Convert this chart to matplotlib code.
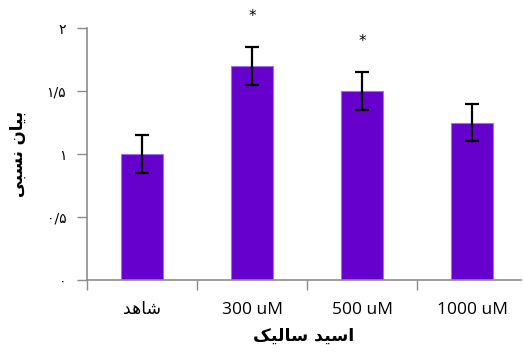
import numpy as np
import matplotlib
matplotlib.use("Agg")
import matplotlib.pyplot as plt

# Persian text written in presentation forms, visual order (matplotlib has no shaping)
categories = ["\ufeaa\ufeeb\ufe8e\ufeb7", "300 uM", "500 uM", "1000 uM"]
values = [1.0, 1.70, 1.50, 1.25]
errors = [0.15, 0.15, 0.15, 0.15]
stars = ["", "*", "*", ""]
yticks = [0, 0.5, 1, 1.5, 2]
ytick_labels = ["\u06f0", "\u06f0/\u06f5", "\u06f1", "\u06f1/\u06f5", "\u06f2"]
xlabel = "\ufb8f\ufef4\ufedf\ufe8e\ufeb3 \ufeaa\ufef4\ufeb3\ufe8d"
ylabel = "\ufef0\ufe92\ufeb4\ufee7 \ufee5\ufe8e\ufef4\ufe91"

fonts = ["Open Sans", "DejaVu Sans"]
plt.rcParams["font.family"] = fonts

fig = plt.figure(figsize=(5.23, 3.54), dpi=100)
ax = fig.add_axes([87 / 523, 74 / 354, 434 / 523, 252 / 354])

x = np.arange(len(categories))
ax.bar(x, values, width=0.39, color="#6600cc", edgecolor="#a070e8", linewidth=0.8, zorder=2)
ax.errorbar(x, values, yerr=errors, fmt="none", ecolor="black", elinewidth=1.6,
            capsize=5, capthick=1.6, zorder=3)

for xi, v, e, s in zip(x, values, errors, stars):
    if s:
        ax.text(xi, v + e + 0.24, s, ha="center", va="center", fontsize=11,
                family=["DejaVu Sans"], clip_on=False)

ax.set_xlim(-0.5, 3.445)
ax.set_ylim(0, 2)

ax.set_yticks(yticks)
ax.set_yticklabels(ytick_labels, fontsize=10, family=["DejaVu Sans"])
ax.tick_params(axis="y", direction="out", length=7, color="#8c8c8c", width=1, pad=8)

ax.set_xticks(x)
ax.set_xticklabels(categories, fontsize=12.5)
ax.tick_params(axis="x", length=0, pad=16)
ax.set_xticks([-0.5, 0.5, 1.5, 2.5], minor=True)
ax.tick_params(axis="x", which="minor", direction="out", length=7, color="#8c8c8c", width=1)

for sp in ["top", "right"]:
    ax.spines[sp].set_visible(False)
for sp in ["left", "bottom"]:
    ax.spines[sp].set_color("#8c8c8c")
    ax.spines[sp].set_linewidth(1.2)

ax.set_xlabel(xlabel, fontsize=12.5, fontweight="bold", family=["DejaVu Sans"], labelpad=6)
ax.set_ylabel(ylabel, fontsize=12, fontweight="bold", family=["DejaVu Sans"], labelpad=14)

fig.savefig("out.png", dpi=100)
